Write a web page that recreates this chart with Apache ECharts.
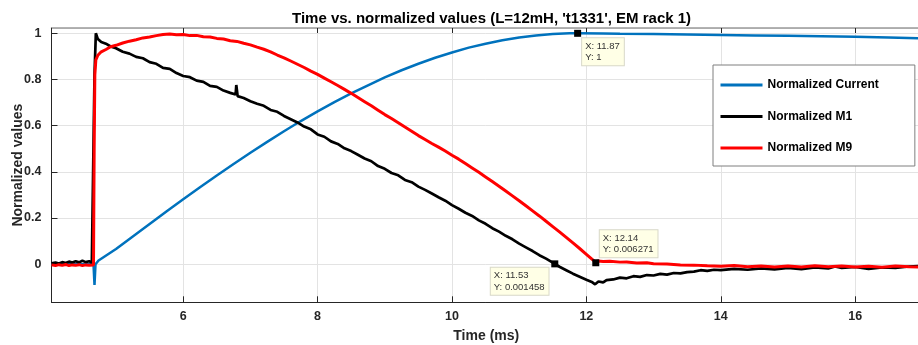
<!DOCTYPE html>
<html>
<head>
<meta charset="utf-8">
<script src="https://cdn.jsdelivr.net/npm/echarts@6/dist/echarts.min.js"></script>
<style>
html,body{margin:0;padding:0;background:#fff;}
#chart{width:918px;height:345px;}
</style>
</head>
<body>
<div id="chart"></div>
<script>
// ---- data ----
const titleText = "Time vs. normalized values (L=12mH, 't1331', EM rack 1)";
const xName = 'Time (ms)';
const yName = 'Normalized values';
const seriesNames = ['Normalized Current', 'Normalized M1', 'Normalized M9'];
const xRange = [4.04, 16.98];
const yRange = [-0.165, 1.023];

// [time (ms), value]
const currentPoints = [[4.04,0],[4.665,0],[4.68,-0.09],[4.695,0.0],[4.74,0.016],[5.0,0.066],[5.25,0.120],[5.5,0.174],[5.75,0.228],[6.0,0.281],[6.25,0.333],[6.5,0.384],[6.75,0.434],[7.0,0.483],[7.25,0.530],[7.5,0.576],[7.75,0.620],[8.0,0.662],[8.25,0.702],[8.5,0.740],[8.75,0.775],[9.0,0.809],[9.25,0.840],[9.5,0.868],[9.75,0.894],[10.0,0.917],[10.25,0.938],[10.5,0.955],[10.75,0.970],[11.0,0.982],[11.25,0.991],[11.5,0.997],[11.75,1.0],[11.87,1.0],[12.25,0.999],[12.5,0.998],[13.0,0.997],[13.5,0.995],[14.0,0.993],[14.5,0.991],[15.0,0.989],[15.5,0.987],[16.0,0.985],[16.5,0.982],[16.98,0.978]];

const m1Points = [[4.04,0.004],[4.1,0.007],[4.15,0.003],[4.2,0.009],[4.25,0.005],[4.3,0.011],[4.35,0.007],[4.4,0.013],[4.45,0.008],[4.5,0.015],[4.55,0.009],[4.6,0.013],[4.64,0.006],[4.665,0.004],[4.68,0.82],[4.70,1.0],[4.73,0.975],[4.78,0.962],[4.85,0.955],[4.92,0.943],[5.0,0.935],[5.1,0.92],[5.2,0.912],[5.3,0.898],[5.4,0.892],[5.5,0.875],[5.6,0.868],[5.7,0.85],[5.8,0.846],[5.9,0.828],[6.0,0.815],[6.1,0.81],[6.2,0.795],[6.3,0.79],[6.4,0.772],[6.5,0.768],[6.6,0.752],[6.7,0.742],[6.78,0.735],[6.79,0.776],[6.81,0.728],[6.9,0.72],[7.0,0.706],[7.1,0.695],[7.2,0.686],[7.3,0.668],[7.4,0.66],[7.5,0.642],[7.6,0.628],[7.7,0.614],[7.8,0.596],[7.9,0.584],[8.0,0.562],[8.1,0.552],[8.2,0.532],[8.3,0.521],[8.4,0.502],[8.5,0.49],[8.6,0.474],[8.7,0.458],[8.8,0.446],[8.9,0.425],[9.0,0.413],[9.1,0.395],[9.2,0.385],[9.3,0.365],[9.4,0.355],[9.5,0.336],[9.6,0.322],[9.7,0.306],[9.8,0.29],[9.9,0.275],[10.0,0.256],[10.1,0.24],[10.2,0.223],[10.3,0.209],[10.4,0.19],[10.5,0.175],[10.6,0.156],[10.7,0.141],[10.8,0.123],[10.9,0.108],[11.0,0.089],[11.1,0.073],[11.2,0.057],[11.3,0.039],[11.4,0.024],[11.53,0.0015],[11.6,-0.011],[11.7,-0.026],[11.8,-0.041],[11.9,-0.054],[12.0,-0.067],[12.08,-0.077],[12.13,-0.087],[12.18,-0.075],[12.25,-0.079],[12.3,-0.069],[12.4,-0.066],[12.5,-0.058],[12.6,-0.061],[12.7,-0.052],[12.8,-0.055],[12.9,-0.047],[13.0,-0.049],[13.1,-0.042],[13.2,-0.045],[13.3,-0.038],[13.4,-0.04],[13.5,-0.034],[13.6,-0.032],[13.7,-0.026],[13.8,-0.029],[13.9,-0.024],[14.0,-0.026],[14.2,-0.02],[14.4,-0.024],[14.6,-0.018],[14.8,-0.022],[15.0,-0.016],[15.2,-0.021],[15.4,-0.014],[15.6,-0.018],[15.7,-0.01],[15.8,-0.016],[16.0,-0.012],[16.2,-0.02],[16.4,-0.014],[16.6,-0.016],[16.8,-0.01],[16.98,-0.008]];

const m9Points = [[4.04,-0.003],[4.1,-0.006],[4.15,-0.002],[4.2,-0.005],[4.25,-0.001],[4.3,-0.006],[4.35,-0.003],[4.4,-0.005],[4.45,-0.002],[4.5,-0.006],[4.55,-0.003],[4.6,-0.005],[4.665,-0.003],[4.675,0.5],[4.685,0.82],[4.70,0.885],[4.73,0.905],[4.78,0.92],[4.85,0.93],[4.92,0.942],[5.0,0.948],[5.1,0.958],[5.2,0.966],[5.3,0.972],[5.4,0.98],[5.5,0.984],[5.6,0.99],[5.7,0.995],[5.8,0.997],[5.9,0.994],[6.0,0.995],[6.1,0.99],[6.2,0.991],[6.3,0.985],[6.4,0.984],[6.5,0.978],[6.6,0.975],[6.7,0.968],[6.8,0.965],[6.9,0.957],[7.0,0.95],[7.1,0.94],[7.2,0.931],[7.3,0.92],[7.4,0.906],[7.5,0.894],[7.6,0.88],[7.7,0.866],[7.8,0.852],[7.9,0.836],[8.0,0.822],[8.1,0.806],[8.2,0.79],[8.3,0.774],[8.4,0.757],[8.5,0.74],[8.6,0.722],[8.7,0.704],[8.8,0.686],[8.9,0.667],[9.0,0.648],[9.1,0.631],[9.2,0.613],[9.3,0.594],[9.4,0.576],[9.5,0.557],[9.6,0.54],[9.7,0.523],[9.8,0.507],[9.9,0.49],[10.0,0.472],[10.1,0.455],[10.2,0.436],[10.3,0.417],[10.4,0.398],[10.5,0.378],[10.6,0.358],[10.7,0.338],[10.8,0.317],[10.9,0.296],[11.0,0.275],[11.1,0.253],[11.2,0.231],[11.3,0.209],[11.4,0.186],[11.5,0.163],[11.6,0.14],[11.7,0.116],[11.8,0.092],[11.9,0.068],[12.0,0.043],[12.1,0.018],[12.14,0.0063],[12.17,0.014],[12.25,0.012],[12.35,0.013],[12.5,0.009],[12.6,0.01],[12.75,0.005],[12.9,0.006],[13.0,0.002],[13.2,0.001],[13.4,-0.003],[13.6,-0.004],[13.8,-0.007],[14.0,-0.009],[14.2,-0.006],[14.4,-0.011],[14.6,-0.008],[14.8,-0.012],[15.0,-0.008],[15.2,-0.012],[15.4,-0.007],[15.6,-0.011],[15.8,-0.008],[16.0,-0.012],[16.2,-0.009],[16.4,-0.013],[16.6,-0.008],[16.8,-0.011],[16.98,-0.012]];

// data tips: [x, y]
const tipCurrent = [11.87, 1];
const tipM9 = [12.14, 0.006271];
const tipM1 = [11.53, 0.001458];

// ---- chart ----
const FONT = '"Liberation Sans", Arial, Helvetica, sans-serif';
const colors = ['#0072BD', '#000000', '#FF0000'];
const axisColor = '#262626';

function tipMark(p, pos, align, vAlign) {
  return {
    symbol: 'rect',
    symbolSize: 7,
    silent: true,
    itemStyle: { color: '#000' },
    data: [{ coord: p, value: p[1] }],
    label: {
      show: true,
      position: pos,
      align: align,
      verticalAlign: vAlign,
      formatter: 'X: ' + p[0] + '\nY: ' + p[1],
      fontFamily: FONT,
      fontSize: 9.5,
      lineHeight: 11.5,
      color: '#333',
      backgroundColor: '#FFFFE6',
      borderColor: '#D8D8C8',
      borderWidth: 1,
      padding: [2, 4, 2, 3]
    }
  };
}

const chart = echarts.init(document.getElementById('chart'), null, { renderer: 'canvas' });
const option = {
  animation: false,
  backgroundColor: '#fff',
  title: {
    text: titleText,
    left: 287,
    top: 6,
    textStyle: { fontFamily: FONT, fontWeight: 'bold', fontSize: 15, color: '#000' }
  },
  legend: {
    orient: 'vertical',
    left: 713,
    top: 65,
    padding: [14, 36, 12, 7.5],
    itemGap: 19.5,
    itemWidth: 42,
    itemHeight: 3,
    icon: 'rect',
    backgroundColor: '#fff',
    borderColor: '#7f7f7f',
    borderWidth: 1,
    textStyle: { fontFamily: FONT, fontWeight: 'bold', fontSize: 12, color: '#000' },
    data: seriesNames
  },
  grid: {
    left: 51.5, top: 28, right: -3, bottom: 42.7,
    containLabel: false,
    outerBoundsMode: 'none'
  },
  xAxis: [{
    type: 'value',
    min: xRange[0], max: xRange[1],
    splitNumber: 6,
    name: xName,
    nameLocation: 'middle',
    nameGap: 26.5,
    nameTextStyle: { fontFamily: FONT, fontWeight: 'bold', fontSize: 14, color: axisColor },
    axisLine: { show: true, onZero: false, lineStyle: { color: axisColor, width: 1 } },
    axisTick: { show: true, inside: true, length: 6, lineStyle: { color: axisColor } },
    axisLabel: { showMinLabel: false, showMaxLabel: false, margin: 8, fontFamily: FONT, fontWeight: 'bold', fontSize: 12.5, color: axisColor },
    splitLine: { show: true, lineStyle: { color: '#e3e3e3', width: 1 } }
  }, {
    type: 'value',
    position: 'top',
    min: xRange[0], max: xRange[1],
    splitNumber: 6,
    axisLine: { show: true, onZero: false, lineStyle: { color: '#9a9a9a', width: 1.5 } },
    axisTick: { show: true, inside: true, length: 5, lineStyle: { color: axisColor } },
    axisLabel: { show: false },
    splitLine: { show: false }
  }],
  yAxis: {
    type: 'value',
    min: yRange[0], max: yRange[1],
    splitNumber: 6,
    name: yName,
    nameLocation: 'middle',
    nameGap: 26,
    nameMoveOverlap: false,
    nameTextStyle: { fontFamily: FONT, fontWeight: 'bold', fontSize: 14, color: axisColor },
    axisLine: { show: true, onZero: false, lineStyle: { color: axisColor, width: 1 } },
    axisTick: { show: true, inside: true, length: 6, lineStyle: { color: axisColor } },
    axisLabel: { showMinLabel: false, showMaxLabel: false, margin: 10, fontFamily: FONT, fontWeight: 'bold', fontSize: 12.5, color: axisColor },
    splitLine: { show: true, lineStyle: { color: '#e3e3e3', width: 1 } }
  },
  series: [
    {
      name: seriesNames[0], type: 'line', xAxisIndex: 0, data: currentPoints,
      showSymbol: false, symbol: 'none', color: colors[0],
      lineStyle: { width: 2.5, color: colors[0] },
      markPoint: tipMark(tipCurrent, [8, 8.5], 'left', 'top'),
      z: 2
    },
    {
      name: seriesNames[1], type: 'line', xAxisIndex: 0, data: m1Points,
      showSymbol: false, symbol: 'none', color: colors[1],
      lineStyle: { width: 2.7, color: colors[1] },
      markPoint: tipMark(tipM1, [-60.5, 7.5], 'left', 'top'),
      z: 3
    },
    {
      name: seriesNames[2], type: 'line', xAxisIndex: 0, data: m9Points,
      showSymbol: false, symbol: 'none', color: colors[2],
      lineStyle: { width: 3, color: colors[2] },
      markPoint: tipMark(tipM9, [7.5, -2], 'left', 'bottom'),
      z: 4
    }
  ]
};
chart.setOption(option);
</script>
</body>
</html>
